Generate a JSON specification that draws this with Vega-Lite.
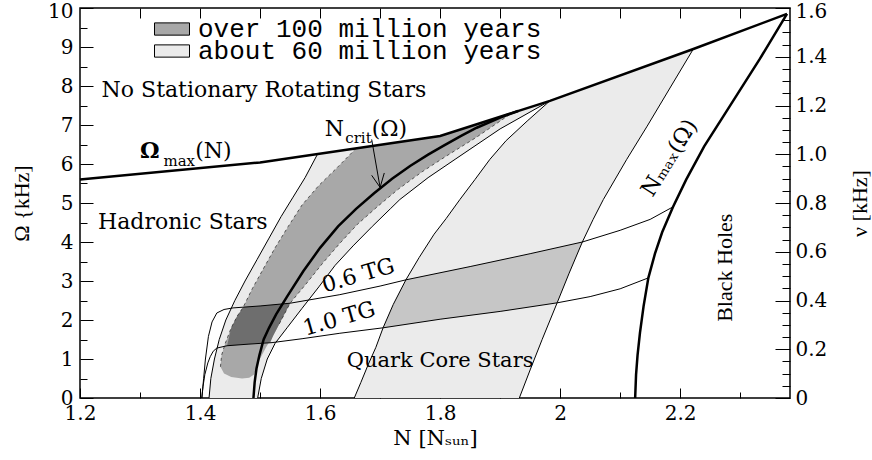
{
  "$schema": "https://vega.github.io/schema/vega-lite/v6.json",
  "width": 710,
  "height": 390,
  "autosize": {"type": "none"},
  "padding": {"left": 80, "top": 8, "right": 82, "bottom": 62},
  "background": "white",
  "config": {
    "view": {"stroke": "black", "strokeWidth": 1.5},
    "axis": {"domain": false, "grid": false, "tickColor": "black", "tickWidth": 1, "labelColor": "black", "titleColor": "black", "labelFont": "DejaVu Serif", "labelFontSize": 20, "titleFont": "Liberation Serif", "titleFontSize": 22, "titleFontWeight": "normal", "labelFlush": false, "labelOverlap": false},
    "legend": {"orient": "none", "title": null, "padding": 0, "symbolType": "M-1,-0.35H1V0.35H-1Z", "symbolSize": 1225, "symbolStrokeColor": "black", "symbolStrokeWidth": 1, "symbolOpacity": 1, "labelFont": "Liberation Mono", "labelFontSize": 26, "labelColor": "black", "labelOffset": 8, "labelLimit": 600, "labelBaseline": "middle"}
  },
  "datasets": {
    "regions": [
      {"region":"band1","i":0,"N":1.415,"Omega":0},{"region":"band1","i":1,"N":1.418,"Omega":0.5},{"region":"band1","i":2,"N":1.424,"Omega":1.0},{"region":"band1","i":3,"N":1.432,"Omega":1.5},{"region":"band1","i":4,"N":1.443,"Omega":2.0},{"region":"band1","i":5,"N":1.458,"Omega":2.5},{"region":"band1","i":6,"N":1.475,"Omega":3.0},{"region":"band1","i":7,"N":1.495,"Omega":3.55},{"region":"band1","i":8,"N":1.515,"Omega":4.1},{"region":"band1","i":9,"N":1.535,"Omega":4.65},{"region":"band1","i":10,"N":1.555,"Omega":5.15},{"region":"band1","i":11,"N":1.575,"Omega":5.65},{"region":"band1","i":12,"N":1.596,"Omega":6.26},{"region":"band1","i":13,"N":1.8,"Omega":6.72},{"region":"band1","i":14,"N":1.983,"Omega":7.62},{"region":"band1","i":15,"N":1.9,"Omega":6.9},{"region":"band1","i":16,"N":1.825,"Omega":6.12},{"region":"band1","i":17,"N":1.78,"Omega":5.65},{"region":"band1","i":18,"N":1.733,"Omega":5.09},{"region":"band1","i":19,"N":1.717,"Omega":4.85},{"region":"band1","i":20,"N":1.687,"Omega":4.4},{"region":"band1","i":21,"N":1.655,"Omega":3.9},{"region":"band1","i":22,"N":1.625,"Omega":3.4},{"region":"band1","i":23,"N":1.598,"Omega":2.85},{"region":"band1","i":24,"N":1.57,"Omega":2.3},{"region":"band1","i":25,"N":1.545,"Omega":1.8},{"region":"band1","i":26,"N":1.525,"Omega":1.4},{"region":"band1","i":27,"N":1.512,"Omega":1.0},{"region":"band1","i":28,"N":1.502,"Omega":0.5},{"region":"band1","i":29,"N":1.496,"Omega":0},
      {"region":"band2","i":0,"N":1.657,"Omega":0},{"region":"band2","i":1,"N":1.668,"Omega":0.4},{"region":"band2","i":2,"N":1.68,"Omega":0.85},{"region":"band2","i":3,"N":1.693,"Omega":1.3},{"region":"band2","i":4,"N":1.705,"Omega":1.8},{"region":"band2","i":5,"N":1.722,"Omega":2.4},{"region":"band2","i":6,"N":1.743,"Omega":3.03},{"region":"band2","i":7,"N":1.765,"Omega":3.6},{"region":"band2","i":8,"N":1.79,"Omega":4.2},{"region":"band2","i":9,"N":1.81,"Omega":4.6},{"region":"band2","i":10,"N":1.833,"Omega":5.09},{"region":"band2","i":11,"N":1.858,"Omega":5.6},{"region":"band2","i":12,"N":1.883,"Omega":6.12},{"region":"band2","i":13,"N":1.91,"Omega":6.6},{"region":"band2","i":14,"N":1.945,"Omega":7.1},{"region":"band2","i":15,"N":1.983,"Omega":7.62},{"region":"band2","i":16,"N":2.222,"Omega":8.95},{"region":"band2","i":17,"N":2.185,"Omega":8.0},{"region":"band2","i":18,"N":2.145,"Omega":6.97},{"region":"band2","i":19,"N":2.111,"Omega":6.12},{"region":"band2","i":20,"N":2.072,"Omega":5.09},{"region":"band2","i":21,"N":2.055,"Omega":4.58},{"region":"band2","i":22,"N":2.037,"Omega":4.0},{"region":"band2","i":23,"N":2.015,"Omega":3.2},{"region":"band2","i":24,"N":1.995,"Omega":2.44},{"region":"band2","i":25,"N":1.97,"Omega":1.5},{"region":"band2","i":26,"N":1.95,"Omega":0.72},{"region":"band2","i":27,"N":1.932,"Omega":0},
      {"region":"dense","i":0,"N":1.705,"Omega":1.8},{"region":"dense","i":1,"N":1.8,"Omega":2.02},{"region":"dense","i":2,"N":1.9,"Omega":2.22},{"region":"dense","i":3,"N":1.995,"Omega":2.44},{"region":"dense","i":4,"N":2.015,"Omega":3.2},{"region":"dense","i":5,"N":2.037,"Omega":4.0},{"region":"dense","i":6,"N":1.95,"Omega":3.7},{"region":"dense","i":7,"N":1.85,"Omega":3.37},{"region":"dense","i":8,"N":1.743,"Omega":3.03},{"region":"dense","i":9,"N":1.722,"Omega":2.4},
      {"region":"cross","i":0,"N":1.47,"Omega":0.5},{"region":"cross","i":1,"N":1.452,"Omega":0.54},{"region":"cross","i":2,"N":1.44,"Omega":0.63},{"region":"cross","i":3,"N":1.434,"Omega":0.8},{"region":"cross","i":4,"N":1.436,"Omega":1.1},{"region":"cross","i":5,"N":1.442,"Omega":1.4},{"region":"cross","i":6,"N":1.452,"Omega":1.8},{"region":"cross","i":7,"N":1.462,"Omega":2.1},{"region":"cross","i":8,"N":1.472,"Omega":2.33},{"region":"cross","i":9,"N":1.487,"Omega":2.8},{"region":"cross","i":10,"N":1.505,"Omega":3.3},{"region":"cross","i":11,"N":1.525,"Omega":3.85},{"region":"cross","i":12,"N":1.547,"Omega":4.4},{"region":"cross","i":13,"N":1.57,"Omega":4.95},{"region":"cross","i":14,"N":1.598,"Omega":5.45},{"region":"cross","i":15,"N":1.628,"Omega":5.9},{"region":"cross","i":16,"N":1.66,"Omega":6.4},{"region":"cross","i":17,"N":1.8,"Omega":6.72},{"region":"cross","i":18,"N":1.92,"Omega":7.31},{"region":"cross","i":19,"N":1.86,"Omega":6.68},{"region":"cross","i":20,"N":1.81,"Omega":6.2},{"region":"cross","i":21,"N":1.77,"Omega":5.8},{"region":"cross","i":22,"N":1.73,"Omega":5.35},{"region":"cross","i":23,"N":1.695,"Omega":4.9},{"region":"cross","i":24,"N":1.662,"Omega":4.45},{"region":"cross","i":25,"N":1.632,"Omega":3.95},{"region":"cross","i":26,"N":1.604,"Omega":3.45},{"region":"cross","i":27,"N":1.578,"Omega":2.95},{"region":"cross","i":28,"N":1.55,"Omega":2.43},{"region":"cross","i":29,"N":1.532,"Omega":1.9},{"region":"cross","i":30,"N":1.522,"Omega":1.6},{"region":"cross","i":31,"N":1.51,"Omega":1.3},{"region":"cross","i":32,"N":1.498,"Omega":0.95},{"region":"cross","i":33,"N":1.49,"Omega":0.6},{"region":"cross","i":34,"N":1.482,"Omega":0.52},
      {"region":"grid","i":0,"N":1.445,"Omega":1.34},{"region":"grid","i":1,"N":1.452,"Omega":1.8},{"region":"grid","i":2,"N":1.462,"Omega":2.1},{"region":"grid","i":3,"N":1.472,"Omega":2.33},{"region":"grid","i":4,"N":1.5,"Omega":2.36},{"region":"grid","i":5,"N":1.55,"Omega":2.43},{"region":"grid","i":6,"N":1.532,"Omega":1.9},{"region":"grid","i":7,"N":1.522,"Omega":1.6},{"region":"grid","i":8,"N":1.517,"Omega":1.42},{"region":"grid","i":9,"N":1.48,"Omega":1.38}
    ],
    "curves": [
      {"curve":"omax","i":0,"N":1.2,"Omega":5.6},{"curve":"omax","i":1,"N":1.5,"Omega":6.04},{"curve":"omax","i":2,"N":1.8,"Omega":6.72},{"curve":"omax","i":3,"N":1.983,"Omega":7.62},{"curve":"omax","i":4,"N":2.222,"Omega":8.95},{"curve":"omax","i":5,"N":2.378,"Omega":9.85},
      {"curve":"ncrit","i":0,"N":1.489,"Omega":0},{"curve":"ncrit","i":1,"N":1.491,"Omega":0.4},{"curve":"ncrit","i":2,"N":1.494,"Omega":0.75},{"curve":"ncrit","i":3,"N":1.499,"Omega":1.1},{"curve":"ncrit","i":4,"N":1.506,"Omega":1.5},{"curve":"ncrit","i":5,"N":1.515,"Omega":1.8},{"curve":"ncrit","i":6,"N":1.527,"Omega":2.15},{"curve":"ncrit","i":7,"N":1.545,"Omega":2.6},{"curve":"ncrit","i":8,"N":1.572,"Omega":3.25},{"curve":"ncrit","i":9,"N":1.6,"Omega":3.85},{"curve":"ncrit","i":10,"N":1.63,"Omega":4.4},{"curve":"ncrit","i":11,"N":1.66,"Omega":4.85},{"curve":"ncrit","i":12,"N":1.69,"Omega":5.25},{"curve":"ncrit","i":13,"N":1.72,"Omega":5.62},{"curve":"ncrit","i":14,"N":1.75,"Omega":5.95},{"curve":"ncrit","i":15,"N":1.78,"Omega":6.24},{"curve":"ncrit","i":16,"N":1.806,"Omega":6.47},{"curve":"ncrit","i":17,"N":1.835,"Omega":6.72},{"curve":"ncrit","i":18,"N":1.861,"Omega":6.93},{"curve":"ncrit","i":19,"N":1.9,"Omega":7.19},{"curve":"ncrit","i":20,"N":1.93,"Omega":7.36},
      {"curve":"nmax","i":0,"N":2.125,"Omega":0},{"curve":"nmax","i":1,"N":2.1265,"Omega":0.6},{"curve":"nmax","i":2,"N":2.129,"Omega":1.1},{"curve":"nmax","i":3,"N":2.133,"Omega":1.67},{"curve":"nmax","i":4,"N":2.139,"Omega":2.35},{"curve":"nmax","i":5,"N":2.147,"Omega":3.08},{"curve":"nmax","i":6,"N":2.158,"Omega":3.7},{"curve":"nmax","i":7,"N":2.17,"Omega":4.25},{"curve":"nmax","i":8,"N":2.188,"Omega":4.9},{"curve":"nmax","i":9,"N":2.21,"Omega":5.6},{"curve":"nmax","i":10,"N":2.24,"Omega":6.45},{"curve":"nmax","i":11,"N":2.275,"Omega":7.3},{"curve":"nmax","i":12,"N":2.333,"Omega":8.7},{"curve":"nmax","i":13,"N":2.378,"Omega":9.85},
      {"curve":"a","i":0,"N":1.415,"Omega":0},{"curve":"a","i":1,"N":1.418,"Omega":0.5},{"curve":"a","i":2,"N":1.424,"Omega":1.0},{"curve":"a","i":3,"N":1.432,"Omega":1.5},{"curve":"a","i":4,"N":1.443,"Omega":2.0},{"curve":"a","i":5,"N":1.458,"Omega":2.5},{"curve":"a","i":6,"N":1.475,"Omega":3.0},{"curve":"a","i":7,"N":1.495,"Omega":3.55},{"curve":"a","i":8,"N":1.515,"Omega":4.1},{"curve":"a","i":9,"N":1.535,"Omega":4.65},{"curve":"a","i":10,"N":1.555,"Omega":5.15},{"curve":"a","i":11,"N":1.575,"Omega":5.65},{"curve":"a","i":12,"N":1.596,"Omega":6.26},
      {"curve":"b","i":0,"N":1.496,"Omega":0},{"curve":"b","i":1,"N":1.502,"Omega":0.5},{"curve":"b","i":2,"N":1.512,"Omega":1.0},{"curve":"b","i":3,"N":1.525,"Omega":1.4},{"curve":"b","i":4,"N":1.545,"Omega":1.8},{"curve":"b","i":5,"N":1.57,"Omega":2.3},{"curve":"b","i":6,"N":1.598,"Omega":2.85},{"curve":"b","i":7,"N":1.625,"Omega":3.4},{"curve":"b","i":8,"N":1.655,"Omega":3.9},{"curve":"b","i":9,"N":1.687,"Omega":4.4},{"curve":"b","i":10,"N":1.717,"Omega":4.85},{"curve":"b","i":11,"N":1.733,"Omega":5.09},{"curve":"b","i":12,"N":1.78,"Omega":5.65},{"curve":"b","i":13,"N":1.825,"Omega":6.12},{"curve":"b","i":14,"N":1.9,"Omega":6.9},{"curve":"b","i":15,"N":1.983,"Omega":7.62},
      {"curve":"c1","i":0,"N":1.657,"Omega":0},{"curve":"c1","i":1,"N":1.668,"Omega":0.4},{"curve":"c1","i":2,"N":1.68,"Omega":0.85},{"curve":"c1","i":3,"N":1.693,"Omega":1.3},{"curve":"c1","i":4,"N":1.705,"Omega":1.8},{"curve":"c1","i":5,"N":1.722,"Omega":2.4},{"curve":"c1","i":6,"N":1.743,"Omega":3.03},{"curve":"c1","i":7,"N":1.765,"Omega":3.6},{"curve":"c1","i":8,"N":1.79,"Omega":4.2},{"curve":"c1","i":9,"N":1.81,"Omega":4.6},{"curve":"c1","i":10,"N":1.833,"Omega":5.09},{"curve":"c1","i":11,"N":1.858,"Omega":5.6},{"curve":"c1","i":12,"N":1.883,"Omega":6.12},{"curve":"c1","i":13,"N":1.91,"Omega":6.6},{"curve":"c1","i":14,"N":1.945,"Omega":7.1},{"curve":"c1","i":15,"N":1.983,"Omega":7.62},
      {"curve":"c2","i":0,"N":1.932,"Omega":0},{"curve":"c2","i":1,"N":1.95,"Omega":0.72},{"curve":"c2","i":2,"N":1.97,"Omega":1.5},{"curve":"c2","i":3,"N":1.995,"Omega":2.44},{"curve":"c2","i":4,"N":2.015,"Omega":3.2},{"curve":"c2","i":5,"N":2.037,"Omega":4.0},{"curve":"c2","i":6,"N":2.055,"Omega":4.58},{"curve":"c2","i":7,"N":2.072,"Omega":5.09},{"curve":"c2","i":8,"N":2.111,"Omega":6.12},{"curve":"c2","i":9,"N":2.145,"Omega":6.97},{"curve":"c2","i":10,"N":2.185,"Omega":8.0},{"curve":"c2","i":11,"N":2.222,"Omega":8.95},
      {"curve":"tg06","i":0,"N":1.403,"Omega":0},{"curve":"tg06","i":1,"N":1.406,"Omega":0.5},{"curve":"tg06","i":2,"N":1.409,"Omega":1.0},{"curve":"tg06","i":3,"N":1.414,"Omega":1.58},{"curve":"tg06","i":4,"N":1.42,"Omega":1.95},{"curve":"tg06","i":5,"N":1.428,"Omega":2.18},{"curve":"tg06","i":6,"N":1.44,"Omega":2.27},{"curve":"tg06","i":7,"N":1.455,"Omega":2.31},{"curve":"tg06","i":8,"N":1.5,"Omega":2.36},{"curve":"tg06","i":9,"N":1.55,"Omega":2.43},{"curve":"tg06","i":10,"N":1.633,"Omega":2.65},{"curve":"tg06","i":11,"N":1.7,"Omega":2.87},{"curve":"tg06","i":12,"N":1.743,"Omega":3.03},{"curve":"tg06","i":13,"N":1.85,"Omega":3.37},{"curve":"tg06","i":14,"N":1.95,"Omega":3.7},{"curve":"tg06","i":15,"N":2.037,"Omega":4.0},{"curve":"tg06","i":16,"N":2.1,"Omega":4.3},{"curve":"tg06","i":17,"N":2.15,"Omega":4.58},{"curve":"tg06","i":18,"N":2.188,"Omega":4.9},
      {"curve":"tg10","i":0,"N":1.403,"Omega":0},{"curve":"tg10","i":1,"N":1.405,"Omega":0.3},{"curve":"tg10","i":2,"N":1.408,"Omega":0.6},{"curve":"tg10","i":3,"N":1.413,"Omega":0.9},{"curve":"tg10","i":4,"N":1.417,"Omega":1.06},{"curve":"tg10","i":5,"N":1.422,"Omega":1.2},{"curve":"tg10","i":6,"N":1.428,"Omega":1.28},{"curve":"tg10","i":7,"N":1.445,"Omega":1.34},{"curve":"tg10","i":8,"N":1.48,"Omega":1.38},{"curve":"tg10","i":9,"N":1.52,"Omega":1.42},{"curve":"tg10","i":10,"N":1.57,"Omega":1.52},{"curve":"tg10","i":11,"N":1.633,"Omega":1.66},{"curve":"tg10","i":12,"N":1.705,"Omega":1.8},{"curve":"tg10","i":13,"N":1.8,"Omega":2.02},{"curve":"tg10","i":14,"N":1.9,"Omega":2.22},{"curve":"tg10","i":15,"N":1.995,"Omega":2.44},{"curve":"tg10","i":16,"N":2.05,"Omega":2.6},{"curve":"tg10","i":17,"N":2.1,"Omega":2.8},{"curve":"tg10","i":18,"N":2.147,"Omega":3.08},
      {"curve":"e1","i":0,"N":1.434,"Omega":0.8},{"curve":"e1","i":1,"N":1.436,"Omega":1.1},{"curve":"e1","i":2,"N":1.442,"Omega":1.4},{"curve":"e1","i":3,"N":1.452,"Omega":1.8},{"curve":"e1","i":4,"N":1.462,"Omega":2.1},{"curve":"e1","i":5,"N":1.472,"Omega":2.33},{"curve":"e1","i":6,"N":1.487,"Omega":2.8},{"curve":"e1","i":7,"N":1.505,"Omega":3.3},{"curve":"e1","i":8,"N":1.525,"Omega":3.85},{"curve":"e1","i":9,"N":1.547,"Omega":4.4},{"curve":"e1","i":10,"N":1.57,"Omega":4.95},{"curve":"e1","i":11,"N":1.598,"Omega":5.45},{"curve":"e1","i":12,"N":1.628,"Omega":5.9},{"curve":"e1","i":13,"N":1.66,"Omega":6.4},
      {"curve":"e2","i":0,"N":1.532,"Omega":1.9},{"curve":"e2","i":1,"N":1.55,"Omega":2.43},{"curve":"e2","i":2,"N":1.578,"Omega":2.95},{"curve":"e2","i":3,"N":1.604,"Omega":3.45},{"curve":"e2","i":4,"N":1.632,"Omega":3.95},{"curve":"e2","i":5,"N":1.662,"Omega":4.45},{"curve":"e2","i":6,"N":1.695,"Omega":4.9},{"curve":"e2","i":7,"N":1.73,"Omega":5.35},{"curve":"e2","i":8,"N":1.77,"Omega":5.8},{"curve":"e2","i":9,"N":1.81,"Omega":6.2},{"curve":"e2","i":10,"N":1.86,"Omega":6.68},{"curve":"e2","i":11,"N":1.92,"Omega":7.31},
      {"curve":"shaft","i":0,"N":1.686,"Omega":6.63},{"curve":"shaft","i":1,"N":1.7,"Omega":5.4},
      {"curve":"head","i":0,"N":1.686,"Omega":5.71},{"curve":"head","i":1,"N":1.7,"Omega":5.4},{"curve":"head","i":2,"N":1.707,"Omega":5.77}
    ]
  },
  "layer": [
    {
      "data": {"name": "regions"},
      "transform": [{"filter": {"field": "region", "oneOf": ["band1", "band2"]}}],
      "mark": {"type": "line", "fill": "#ebebeb", "strokeWidth": 0},
      "encoding": {
        "x": {"field": "N", "type": "quantitative", "scale": {"domain": [1.2, 2.383], "zero": false, "nice": false},
          "axis": {"orient": "bottom", "values": [1.2, 1.4, 1.6, 1.8, 2, 2.2], "tickSize": -10, "labelPadding": 15, "labelExpr": "format(datum.value, '.1~f')", "title": "N [Nₛᵤₙ]", "titleFont": "DejaVu Serif", "titleFontSize": 21, "titlePadding": 4}},
        "y": {"field": "Omega", "type": "quantitative", "scale": {"domain": [0, 10], "zero": false, "nice": false},
          "axis": {"orient": "left", "values": [0, 1, 2, 3, 4, 5, 6, 7, 8, 9, 10], "tickSize": -13, "labelPadding": 20, "labelOffset": {"condition": {"test": "datum.value === 10", "value": 3}, "value": 0}, "title": "Ω {kHz]", "titlePadding": 14}},
        "detail": {"field": "region", "type": "nominal"},
        "order": {"field": "i", "type": "quantitative"}
      }
    },
    {
      "data": {"name": "regions"},
      "transform": [{"filter": {"field": "region", "equal": "dense"}}],
      "mark": {"type": "line", "fill": "#c6c6c6", "strokeWidth": 0},
      "encoding": {
        "x": {"field": "N", "type": "quantitative", "scale": {"domain": [1.2, 2.383], "zero": false, "nice": false}, "axis": null},
        "y": {"field": "Omega", "type": "quantitative", "scale": {"domain": [0, 10], "zero": false, "nice": false}, "axis": null},
        "detail": {"field": "region", "type": "nominal"},
        "order": {"field": "i", "type": "quantitative"}
      }
    },
    {
      "data": {"name": "regions"},
      "transform": [{"filter": {"field": "region", "equal": "cross"}}],
      "mark": {"type": "line", "fill": "#a8a8a8", "strokeWidth": 0},
      "encoding": {
        "x": {"field": "N", "type": "quantitative", "scale": {"domain": [1.2, 2.383], "zero": false, "nice": false}, "axis": null},
        "y": {"field": "Omega", "type": "quantitative", "scale": {"domain": [0, 10], "zero": false, "nice": false}, "axis": null},
        "detail": {"field": "region", "type": "nominal"},
        "order": {"field": "i", "type": "quantitative"}
      }
    },
    {
      "data": {"name": "regions"},
      "transform": [{"filter": {"field": "region", "equal": "grid"}}],
      "mark": {"type": "line", "fill": "#6e6e6e", "strokeWidth": 0},
      "encoding": {
        "x": {"field": "N", "type": "quantitative", "scale": {"domain": [1.2, 2.383], "zero": false, "nice": false}, "axis": null},
        "y": {"field": "Omega", "type": "quantitative", "scale": {"domain": [0, 10], "zero": false, "nice": false}, "axis": null},
        "detail": {"field": "region", "type": "nominal"},
        "order": {"field": "i", "type": "quantitative"}
      }
    },
    {
      "data": {"name": "curves"},
      "transform": [{"filter": {"field": "curve", "oneOf": ["e1", "e2"]}}],
      "mark": {"type": "line", "color": "#333333", "strokeWidth": 0.8, "strokeDash": [3, 3]},
      "encoding": {
        "x": {"field": "N", "type": "quantitative", "scale": {"domain": [1.2, 2.383], "zero": false, "nice": false}, "axis": null},
        "y": {"field": "Omega", "type": "quantitative", "scale": {"domain": [0, 10], "zero": false, "nice": false}, "axis": null},
        "detail": {"field": "curve", "type": "nominal"},
        "order": {"field": "i", "type": "quantitative"}
      }
    },
    {
      "data": {"name": "curves"},
      "transform": [{"filter": {"field": "curve", "oneOf": ["a", "b", "c1", "c2", "tg06", "tg10", "shaft", "head"]}}],
      "mark": {"type": "line", "color": "black", "strokeWidth": 1},
      "encoding": {
        "x": {"field": "N", "type": "quantitative", "scale": {"domain": [1.2, 2.383], "zero": false, "nice": false}, "axis": null},
        "y": {"field": "Omega", "type": "quantitative", "scale": {"domain": [0, 10], "zero": false, "nice": false}, "axis": null},
        "detail": {"field": "curve", "type": "nominal"},
        "order": {"field": "i", "type": "quantitative"}
      }
    },
    {
      "data": {"name": "curves"},
      "transform": [{"filter": {"field": "curve", "oneOf": ["omax", "ncrit", "nmax"]}}],
      "mark": {"type": "line", "color": "black", "strokeWidth": 2.5},
      "encoding": {
        "x": {"field": "N", "type": "quantitative", "scale": {"domain": [1.2, 2.383], "zero": false, "nice": false}, "axis": null},
        "y": {"field": "Omega", "type": "quantitative", "scale": {"domain": [0, 10], "zero": false, "nice": false}, "axis": null},
        "detail": {"field": "curve", "type": "nominal"},
        "order": {"field": "i", "type": "quantitative"}
      }
    },
    {
      "data": {"values": [
        {"label": "No Stationary Rotating Stars", "N": 1.236, "Omega": 7.71},
        {"label": "Hadronic Stars", "N": 1.23, "Omega": 4.33},
        {"label": "(N)", "N": 1.392, "Omega": 6.16},
        {"label": "N", "N": 1.608, "Omega": 6.72},
        {"label": "(Ω)", "N": 1.686, "Omega": 6.72}
      ]},
      "mark": {"type": "text", "font": "DejaVu Serif", "fontSize": 22, "align": "left", "baseline": "alphabetic", "color": "black"},
      "encoding": {
        "x": {"field": "N", "type": "quantitative", "scale": {"domain": [1.2, 2.383], "zero": false, "nice": false}, "axis": null},
        "y": {"field": "Omega", "type": "quantitative", "scale": {"domain": [0, 10], "zero": false, "nice": false}, "axis": null},
        "text": {"field": "label"}
      }
    },
    {
      "data": {"values": [{"label": "Ω", "N": 1.3, "Omega": 6.16}]},
      "mark": {"type": "text", "font": "DejaVu Serif", "fontSize": 22, "fontWeight": "bold", "align": "left", "baseline": "alphabetic", "color": "black"},
      "encoding": {
        "x": {"field": "N", "type": "quantitative", "scale": {"domain": [1.2, 2.383], "zero": false, "nice": false}, "axis": null},
        "y": {"field": "Omega", "type": "quantitative", "scale": {"domain": [0, 10], "zero": false, "nice": false}, "axis": null},
        "text": {"field": "label"}
      }
    },
    {
      "data": {"values": [
        {"label": "max", "N": 1.339, "Omega": 5.96},
        {"label": "crit", "N": 1.642, "Omega": 6.55}
      ]},
      "mark": {"type": "text", "font": "DejaVu Serif", "fontSize": 15, "align": "left", "baseline": "alphabetic", "color": "black"},
      "encoding": {
        "x": {"field": "N", "type": "quantitative", "scale": {"domain": [1.2, 2.383], "zero": false, "nice": false}, "axis": null},
        "y": {"field": "Omega", "type": "quantitative", "scale": {"domain": [0, 10], "zero": false, "nice": false}, "axis": null},
        "text": {"field": "label"}
      }
    },
    {
      "data": {"values": [{"label": "Quark Core Stars", "N": 1.80, "Omega": 0.80}]},
      "mark": {"type": "text", "font": "DejaVu Serif", "fontSize": 21, "align": "center", "baseline": "alphabetic", "color": "black"},
      "encoding": {
        "x": {"field": "N", "type": "quantitative", "scale": {"domain": [1.2, 2.383], "zero": false, "nice": false}, "axis": null},
        "y": {"field": "Omega", "type": "quantitative", "scale": {"domain": [0, 10], "zero": false, "nice": false}, "axis": null},
        "text": {"field": "label"}
      }
    },
    {
      "data": {"values": [
        {"label": "0.6 TG", "N": 1.667, "Omega": 2.97},
        {"label": "1.0 TG", "N": 1.635, "Omega": 1.86}
      ]},
      "mark": {"type": "text", "font": "DejaVu Serif", "fontSize": 22, "align": "center", "baseline": "alphabetic", "angle": 344, "color": "black"},
      "encoding": {
        "x": {"field": "N", "type": "quantitative", "scale": {"domain": [1.2, 2.383], "zero": false, "nice": false}, "axis": null},
        "y": {"field": "Omega", "type": "quantitative", "scale": {"domain": [0, 10], "zero": false, "nice": false}, "axis": null},
        "text": {"field": "label"}
      }
    },
    {
      "data": {"values": [{"label": "Black Holes", "N": 2.275, "Omega": 3.34}]},
      "mark": {"type": "text", "font": "Liberation Serif", "fontSize": 22, "align": "center", "baseline": "middle", "angle": 270, "color": "black"},
      "encoding": {
        "x": {"field": "N", "type": "quantitative", "scale": {"domain": [1.2, 2.383], "zero": false, "nice": false}, "axis": null},
        "y": {"field": "Omega", "type": "quantitative", "scale": {"domain": [0, 10], "zero": false, "nice": false}, "axis": null},
        "text": {"field": "label"}
      }
    },
    {
      "data": {"values": [{"label": "Nₘₐₓ(Ω)", "N": 2.182, "Omega": 6.16}]},
      "mark": {"type": "text", "font": "DejaVu Serif", "fontSize": 22, "align": "center", "baseline": "middle", "angle": 302, "color": "black"},
      "encoding": {
        "x": {"field": "N", "type": "quantitative", "scale": {"domain": [1.2, 2.383], "zero": false, "nice": false}, "axis": null},
        "y": {"field": "Omega", "type": "quantitative", "scale": {"domain": [0, 10], "zero": false, "nice": false}, "axis": null},
        "text": {"field": "label"}
      }
    },
    {
      "data": {"values": [{"kind": "over 100 million years", "N": 1.0, "Omega": -5}]},
      "mark": {"type": "point", "filled": true, "clip": true},
      "encoding": {
        "x": {"field": "N", "type": "quantitative", "scale": {"domain": [1.2, 2.383], "zero": false, "nice": false}, "axis": null},
        "y": {"field": "Omega", "type": "quantitative", "scale": {"domain": [0, 10], "zero": false, "nice": false}, "axis": null},
        "fill": {"field": "kind", "type": "nominal",
          "scale": {"domain": ["over 100 million years"], "range": ["#a8a8a8"]},
          "legend": {"legendX": 74, "legendY": 3}}
      }
    },
    {
      "data": {"values": [{"kind": "about 60 million years", "N": 1.0, "Omega": -5}]},
      "mark": {"type": "point", "filled": true, "clip": true},
      "encoding": {
        "x": {"field": "N", "type": "quantitative", "scale": {"domain": [1.2, 2.383], "zero": false, "nice": false}, "axis": null},
        "y": {"field": "Omega", "type": "quantitative", "scale": {"domain": [0, 10], "zero": false, "nice": false}, "axis": null},
        "fill": {"field": "kind", "type": "nominal",
          "scale": {"domain": ["about 60 million years"], "range": ["#ebebeb"]},
          "legend": {"legendX": 74, "legendY": 25}}
      }
    },
    {
      "data": {"values": [{"N": 1.2, "Omega": 0}]},
      "mark": {"type": "point", "opacity": 0},
      "encoding": {
        "x": {"field": "N", "type": "quantitative", "scale": {"domain": [1.2, 2.383], "zero": false, "nice": false},
          "axis": {"orient": "bottom", "values": [1.3, 1.5, 1.7, 1.9, 2.1, 2.3], "tickSize": -6, "labels": false, "title": null}},
        "y": {"field": "Omega", "type": "quantitative", "scale": {"domain": [0, 10], "zero": false, "nice": false},
          "axis": {"orient": "left", "values": [0.5, 1.5, 2.5, 3.5, 4.5, 5.5, 6.5, 7.5, 8.5, 9.5], "tickSize": -7, "labels": false, "title": null}}
      }
    },
    {
      "data": {"values": [{"N": 1.2, "nu": 0}]},
      "mark": {"type": "point", "opacity": 0},
      "encoding": {
        "x": {"field": "N", "type": "quantitative", "scale": {"domain": [1.2, 2.383], "zero": false, "nice": false},
          "axis": {"orient": "top", "values": [1.3, 1.4, 1.5, 1.6, 1.7, 1.8, 1.9, 2.0, 2.1, 2.2, 2.3], "tickSize": -10, "labels": false, "title": null}},
        "y": {"field": "nu", "type": "quantitative", "scale": {"domain": [0, 1.6], "zero": false, "nice": false},
          "axis": {"orient": "right", "values": [0, 0.2, 0.4, 0.6, 0.8, 1.0, 1.2, 1.4, 1.6], "tickSize": -15, "labelPadding": 20, "labelOffset": {"condition": {"test": "datum.value === 1.6", "value": 3}, "value": 0}, "labelExpr": "datum.value === 0 ? '0' : format(datum.value, '.1f')", "title": "ν [kHz]", "titleAngle": 270, "titlePadding": 45}}
      }
    },
    {
      "data": {"values": [{"N": 1.2, "nu": 0}]},
      "mark": {"type": "point", "opacity": 0},
      "encoding": {
        "x": {"field": "N", "type": "quantitative", "scale": {"domain": [1.2, 2.383], "zero": false, "nice": false}, "axis": null},
        "y": {"field": "nu", "type": "quantitative", "scale": {"domain": [0, 1.6], "zero": false, "nice": false},
          "axis": {"orient": "right", "values": [0.05, 0.1, 0.15, 0.25, 0.3, 0.35, 0.45, 0.5, 0.55, 0.65, 0.7, 0.75, 0.85, 0.9, 0.95, 1.05, 1.1, 1.15, 1.25, 1.3, 1.35, 1.45, 1.5, 1.55], "tickSize": -8, "labels": false, "title": null}}
      }
    }
  ],
  "resolve": {"scale": {"x": "independent", "y": "independent", "fill": "independent"}}
}
